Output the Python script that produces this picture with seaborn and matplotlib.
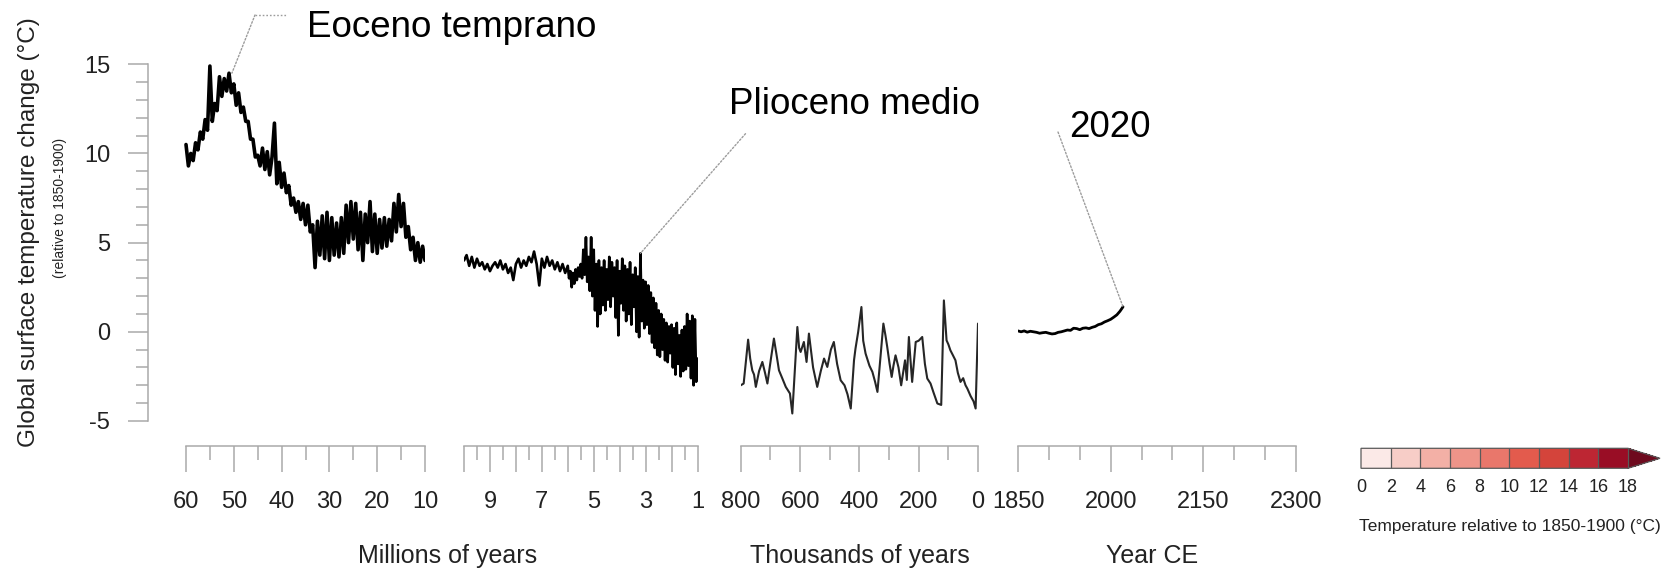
import numpy as np
import pandas as pd
import matplotlib
matplotlib.use("Agg")
import matplotlib.pyplot as plt
import seaborn as sns
from matplotlib import font_manager
from matplotlib.colors import ListedColormap, BoundaryNorm
from matplotlib.cm import ScalarMappable
from matplotlib.lines import Line2D

# ---------------- data ----------------
# Panel 1: 60 -> 10 million years ago, every 0.5 Myr
ma_early_vals = [
    10.5, 9.3, 10.0, 9.6, 10.6, 10.2, 11.2, 10.8, 11.9, 11.3,
    14.9, 11.8, 12.8, 12.4, 14.3, 13.2, 14.2, 13.5, 14.5, 13.4,
    13.9, 12.7, 13.4, 12.3, 12.6, 11.8, 11.8, 10.8, 10.8, 9.8,
    9.9, 9.3, 10.3, 9.1, 10.1, 8.8, 9.8, 11.7, 8.3, 9.5,
    8.1, 8.9, 7.8, 8.2, 7.1, 7.5, 6.7, 7.3, 6.3, 7.2,
    6.0, 7.1, 5.6, 6.0, 3.6, 6.2, 4.3, 6.5, 4.1, 6.7,
    4.0, 6.4, 4.3, 6.1, 4.2, 6.4, 4.4, 7.1, 5.0, 7.3,
    5.2, 7.2, 4.6, 6.7, 4.0, 6.6, 5.0, 7.3, 4.5, 6.6,
    4.4, 6.3, 4.7, 6.4, 4.8, 6.3, 5.1, 7.2, 5.6, 7.7,
    5.9, 7.2, 5.3, 5.9, 4.6, 5.3, 4.0, 5.0, 3.9, 4.8,
    4.0,
]
ma_early_range = (60.0, 10.0)

# Panel 2a: 10.0 -> 6.0 million years ago, every 0.1 Myr
ma_late_quiet_vals = [
    4.0, 4.3, 3.7, 4.2, 3.6, 4.1, 3.7, 3.9, 3.5, 3.8,
    3.4, 3.7, 3.9, 3.6, 4.0, 3.5, 3.8, 3.3, 3.6, 2.9,
    3.8, 4.1, 3.6, 4.0, 3.7, 4.2, 3.9, 4.5, 3.8, 2.6,
    4.1, 3.6, 4.2, 3.7, 4.0, 3.5, 3.9, 3.4, 3.8, 3.3,
    3.7,
]
ma_late_quiet_range = (10.0, 6.0)

# Panel 2b: 5.95 -> 1.0 million years ago, every 0.05 Myr
ma_late_noisy_vals = [
    3.0, 3.4, 2.5, 3.3, 2.7, 3.5, 2.9, 3.6, 3.1, 3.8,
    3.0, 4.6, 3.2, 5.3, 2.8, 4.2, 2.3, 5.3, 2.0, 4.6,
    1.2, 3.8, 0.3, 4.0, 1.0, 3.6, 1.5, 4.0, 1.2, 3.5,
    1.8, 4.2, 1.4, 3.9, 2.0, 3.6, 0.8, 4.0, -0.2, 3.4,
    1.6, 4.1, 1.2, 3.7, 0.6, 3.5, 1.0, 3.9, 0.4, 3.2,
    1.4, 3.6, 0.0, 3.1, -0.3, 4.4, 0.6, 2.9, 0.2, 2.8,
    0.4, 2.6, -0.1, 2.2, -0.6, 1.9, -0.9, 1.6, -1.3, 1.2,
    -1.4, 1.0, -1.0, 0.7, -1.6, 0.5, -1.7, 0.3, -1.2, 0.4,
    -2.0, 0.2, -2.4, 0.5, -1.8, -0.2, -2.5, 0.1, -2.2, 0.3,
    -2.1, 1.0, -1.9, 0.6, -2.6, 0.9, -3.0, 0.7, -2.8, -1.5,
]
ma_late_noisy_range = (5.95, 1.0)

# Panel 3: thousands of years ago
ka_ages = [800, 790, 775, 768, 761, 755, 749, 738, 727, 718,
           710, 698, 688, 680, 671, 660, 648, 634, 626, 609,
           603, 598, 587, 578, 570, 556, 542, 530, 519, 508,
           496, 486, 475, 463, 450, 440, 429, 418, 413, 404,
           393, 387, 379, 366, 356, 347, 339, 319, 312, 306,
           298, 291, 285, 278, 268, 259, 246, 240, 233, 228,
           222, 210, 200, 188, 179, 171, 160, 150, 137, 124,
           115, 106, 100, 93, 85, 76, 68, 59, 50, 42,
           36, 25, 15, 8, 0]
ka_vals = [-3.0, -2.9, -0.44, -1.5, -2.16, -2.4, -3.09, -2.2, -1.69, -2.3,
           -2.9, -1.5, -0.38, -1.2, -2.16, -2.6, -3.09, -3.46, -4.58, 0.27,
           -0.9, -1.13, -0.57, -1.69, -0.1, -2.0, -3.09, -2.2, -1.5, -1.97,
           -1.0, -0.57, -1.8, -2.72, -3.0, -3.5, -4.3, -1.6, -0.94, -0.01,
           1.39, -0.5, -1.22, -1.9, -2.25, -2.8, -3.37, 0.46, -0.2, -0.85,
           -1.8, -2.53, -1.9, -1.32, -2.0, -3.0, -1.6, -2.7, -0.29, -1.5,
           -2.81, -0.57, -0.5, -0.29, -1.8, -2.62, -2.9, -3.4, -4.02, -4.1,
           1.76, -0.48, -0.7, -1.04, -1.3, -1.6, -2.3, -2.81, -2.6, -3.0,
           -3.18, -3.6, -3.9, -4.3, 0.46]

# Panel 4: year CE
ce_years = list(range(1850, 2021, 5))
ce_vals = [0.05, 0.0, 0.05, -0.02, 0.03, 0.0, -0.03, -0.08, -0.05, -0.03,
           -0.08, -0.12, -0.1, -0.03, 0.0, 0.05, 0.1, 0.08, 0.2, 0.18,
           0.12, 0.2, 0.22, 0.18, 0.25, 0.3, 0.4, 0.45, 0.55, 0.62,
           0.7, 0.82, 0.95, 1.15, 1.4]

# Axis ticks / labels
p1_major = [60, 50, 40, 30, 20, 10]
p1_minor = [55, 45, 35, 25, 15]
p2_major = [10, 9, 8, 7, 6, 5, 4, 3, 2, 1]
p2_labels = ["", "9", "", "7", "", "5", "", "3", "", "1"]
p2_minor = [9.5, 8.5, 7.5, 6.5, 5.5, 4.5, 3.5, 2.5, 1.5]
p3_major = [800, 600, 400, 200, 0]
p3_minor = [700, 500, 300, 100]
p4_major = [1850, 2000, 2150, 2300]
p4_minor = [1900, 1950, 2050, 2100, 2200, 2250]
y_major = [-5, 0, 5, 10, 15]
y_minor = list(range(-5, 16))

# Colour legend
cbar_bounds = [0, 2, 4, 6, 8, 10, 12, 14, 16, 18]
cbar_colors = ["#fbe9e7", "#f7cdc7", "#f3b0a6", "#ee9489", "#e9776b",
               "#e35b4d", "#d4443b", "#bd2633", "#990d25", "#6e0a1e"]

# Annotations: (label, panel, x, y)
annotations = [("Eoceno temprano", 0, 50.4, 14.5),
               ("Plioceno medio", 1, 3.2, 4.4),
               ("2020", 3, 2020, 1.4)]

# ---------------- styling ----------------
sns.set_theme(style="white")
names = {f.name for f in font_manager.fontManager.ttflist}
REG = "Liberation Sans" if "Liberation Sans" in names else "DejaVu Sans"
if "Liberation Sans Narrow" in names:
    TICKFONT, TICKSIZE = "Liberation Sans Narrow", 18.5
else:
    TICKFONT, TICKSIZE = REG, 17
plt.rcParams["font.family"] = [REG, "DejaVu Sans"]

W, H, DPI = 1677, 572, 100
fig = plt.figure(figsize=(W / DPI, H / DPI), dpi=DPI)
fig.patch.set_facecolor("white")

TOP, BOT = 30.0, 446.0
Y0_PX, PX_PER_C = 331.8, 17.835
YLIM = ((Y0_PX - BOT) / PX_PER_C, (Y0_PX - TOP) / PX_PER_C)
GREY = "#a9a9a9"
TXT = "#222222"


def add_panel(left, right, xlim):
    ax = fig.add_axes([left / W, 1 - BOT / H, (right - left) / W, (BOT - TOP) / H])
    ax.set_xlim(*xlim)
    ax.set_ylim(*YLIM)
    ax.patch.set_alpha(0)
    for s in ["top", "right"]:
        ax.spines[s].set_visible(False)
    ax.spines["bottom"].set_color(GREY)
    ax.spines["bottom"].set_linewidth(1.1)
    return ax


def style_x(ax, major, minor, labels=None, bounds=None):
    ax.set_xticks(major)
    ax.set_xticks(minor, minor=True)
    ax.set_xticklabels(labels if labels is not None else [str(m) for m in major])
    ax.tick_params(axis="x", which="major", bottom=True, direction="out", length=18.5,
                   width=1.1, color=GREY, pad=14, labelsize=TICKSIZE, labelcolor=TXT)
    ax.tick_params(axis="x", which="minor", bottom=True, direction="out", length=10,
                   width=1.1, color=GREY)
    for lab in ax.get_xticklabels():
        lab.set_fontfamily(TICKFONT)
    ax.spines["bottom"].set_bounds(*bounds)


ax1 = add_panel(148.3, 425.0, (60 + (186.0 - 148.3) / 4.78, 10))
ax2 = add_panel(464.0, 697.5, (10, 1))
ax3 = add_panel(740.7, 978.0, (800, 0))
ax4 = add_panel(1018.0, 1296.0, (1850, 2300))

style_x(ax1, p1_major, p1_minor, bounds=(60, 10))
style_x(ax2, p2_major, p2_minor, labels=p2_labels, bounds=(10, 1))
style_x(ax3, p3_major, p3_minor, bounds=(800, 0))
style_x(ax4, p4_major, p4_minor, bounds=(1850, 2300))

# y axis on first panel only
ax1.spines["left"].set_color(GREY)
ax1.spines["left"].set_linewidth(1.1)
ax1.spines["left"].set_bounds(-5, 15)
ax1.set_yticks(y_major)
ax1.set_yticks(y_minor, minor=True)
ax1.set_yticklabels([str(v) for v in y_major])
ax1.tick_params(axis="y", which="major", left=True, direction="out", length=14.4,
                width=1.1, color=GREY, pad=13, labelsize=TICKSIZE, labelcolor=TXT)
ax1.tick_params(axis="y", which="minor", left=True, direction="out", length=8.4,
                width=1.1, color=GREY)
for lab in ax1.get_yticklabels():
    lab.set_fontfamily(TICKFONT)
for ax in (ax2, ax3, ax4):
    ax.spines["left"].set_visible(False)
    ax.set_yticks([])

# ---------------- series ----------------
df1 = pd.DataFrame({"age": np.linspace(*ma_early_range, len(ma_early_vals)),
                    "temp": ma_early_vals})
df2 = pd.DataFrame({
    "age": np.concatenate([np.linspace(*ma_late_quiet_range, len(ma_late_quiet_vals)),
                           np.linspace(*ma_late_noisy_range, len(ma_late_noisy_vals))]),
    "temp": ma_late_quiet_vals + ma_late_noisy_vals})
df3 = pd.DataFrame({"age": ka_ages, "temp": ka_vals})
df4 = pd.DataFrame({"year": ce_years, "temp": ce_vals})

sns.lineplot(data=df1, x="age", y="temp", ax=ax1, color="black", linewidth=2.6,
             sort=False, estimator=None, errorbar=None)
sns.lineplot(data=df2, x="age", y="temp", ax=ax2, color="black", linewidth=1.9,
             sort=False, estimator=None, errorbar=None)
sns.lineplot(data=df3, x="age", y="temp", ax=ax3, color="#262626", linewidth=1.5,
             sort=False, estimator=None, errorbar=None)
sns.lineplot(data=df4, x="year", y="temp", ax=ax4, color="black", linewidth=2.0,
             sort=False, estimator=None, errorbar=None)
for ax in (ax1, ax2, ax3, ax4):
    ax.set_xlabel("")
    ax.set_ylabel("")

# ---------------- texts ----------------
fig.text(29 / W, 1 - 232 / H, "Global surface temperature change (°C)", rotation=90,
         ha="center", va="center", fontsize=17.5, color=TXT)
fig.text(60 / W, 1 - 208 / H, "(relative to 1850-1900)", rotation=90,
         ha="center", va="center", fontsize=10, color=TXT)
fig.text(447.5 / W, 9.3 / H, "Millions of years", ha="center", va="baseline",
         fontsize=18, color=TXT)
fig.text(860 / W, 9.3 / H, "Thousands of years", ha="center", va="baseline",
         fontsize=18, color=TXT)
fig.text(1152 / W, 9.3 / H, "Year CE", ha="center", va="baseline",
         fontsize=18, color=TXT)

# annotations with dotted leader lines
axes = [ax1, ax2, ax3, ax4]
label_pos = {"Eoceno temprano": (307, 37), "Plioceno medio": (729, 114), "2020": (1069.5, 137)}
line_end = {"Eoceno temprano": (255, 15), "Plioceno medio": (745.5, 133.7), "2020": (1058, 132)}
LEAD = dict(arrowstyle="-", color="#9c9c9c", lw=1.0, linestyle=(0, (1.2, 1.4)),
            shrinkA=0, shrinkB=0)
for text, pi, xv, yv in annotations:
    tx, ty = label_pos[text]
    fig.text(tx / W, 1 - ty / H, text, ha="left", va="baseline", fontsize=26.5,
             color="black")
    ex, ey = line_end[text]
    axes[pi].annotate("", xy=(xv, yv), xycoords="data", xytext=(ex, H - ey),
                      textcoords="figure pixels", arrowprops=LEAD, annotation_clip=False)
fig.add_artist(Line2D([255 / W, 286 / W], [1 - 15 / H, 1 - 15 / H],
                      transform=fig.transFigure, color="#9c9c9c", lw=1.0,
                      linestyle=(0, (1.2, 1.4))))

# ---------------- colour legend ----------------
cax = fig.add_axes([1361 / W, 1 - 468.3 / H, (1660 - 1361) / W, 20 / H])
cmap = ListedColormap(cbar_colors[:-1])
cmap.set_over(cbar_colors[-1])
norm = BoundaryNorm(cbar_bounds, cmap.N)
cb = fig.colorbar(ScalarMappable(norm=norm, cmap=cmap), cax=cax,
                  orientation="horizontal", extend="max", extendfrac=0.12,
                  drawedges=True, ticks=cbar_bounds)
cb.outline.set_edgecolor("#5a5a5a")
cb.outline.set_linewidth(0.9)
cb.dividers.set_color("#5a5a5a")
cb.dividers.set_linewidth(0.9)
cb.ax.tick_params(length=0, pad=8, labelsize=13, labelcolor=TXT)
cb.ax.set_xticklabels([str(b) for b in cbar_bounds])
fig.text(1510 / W, 1 - 526.7 / H, "Temperature relative to 1850-1900 (°C)",
         ha="center", va="center", fontsize=12.5, color=TXT)

fig.savefig("out.png", dpi=DPI, facecolor="white")
